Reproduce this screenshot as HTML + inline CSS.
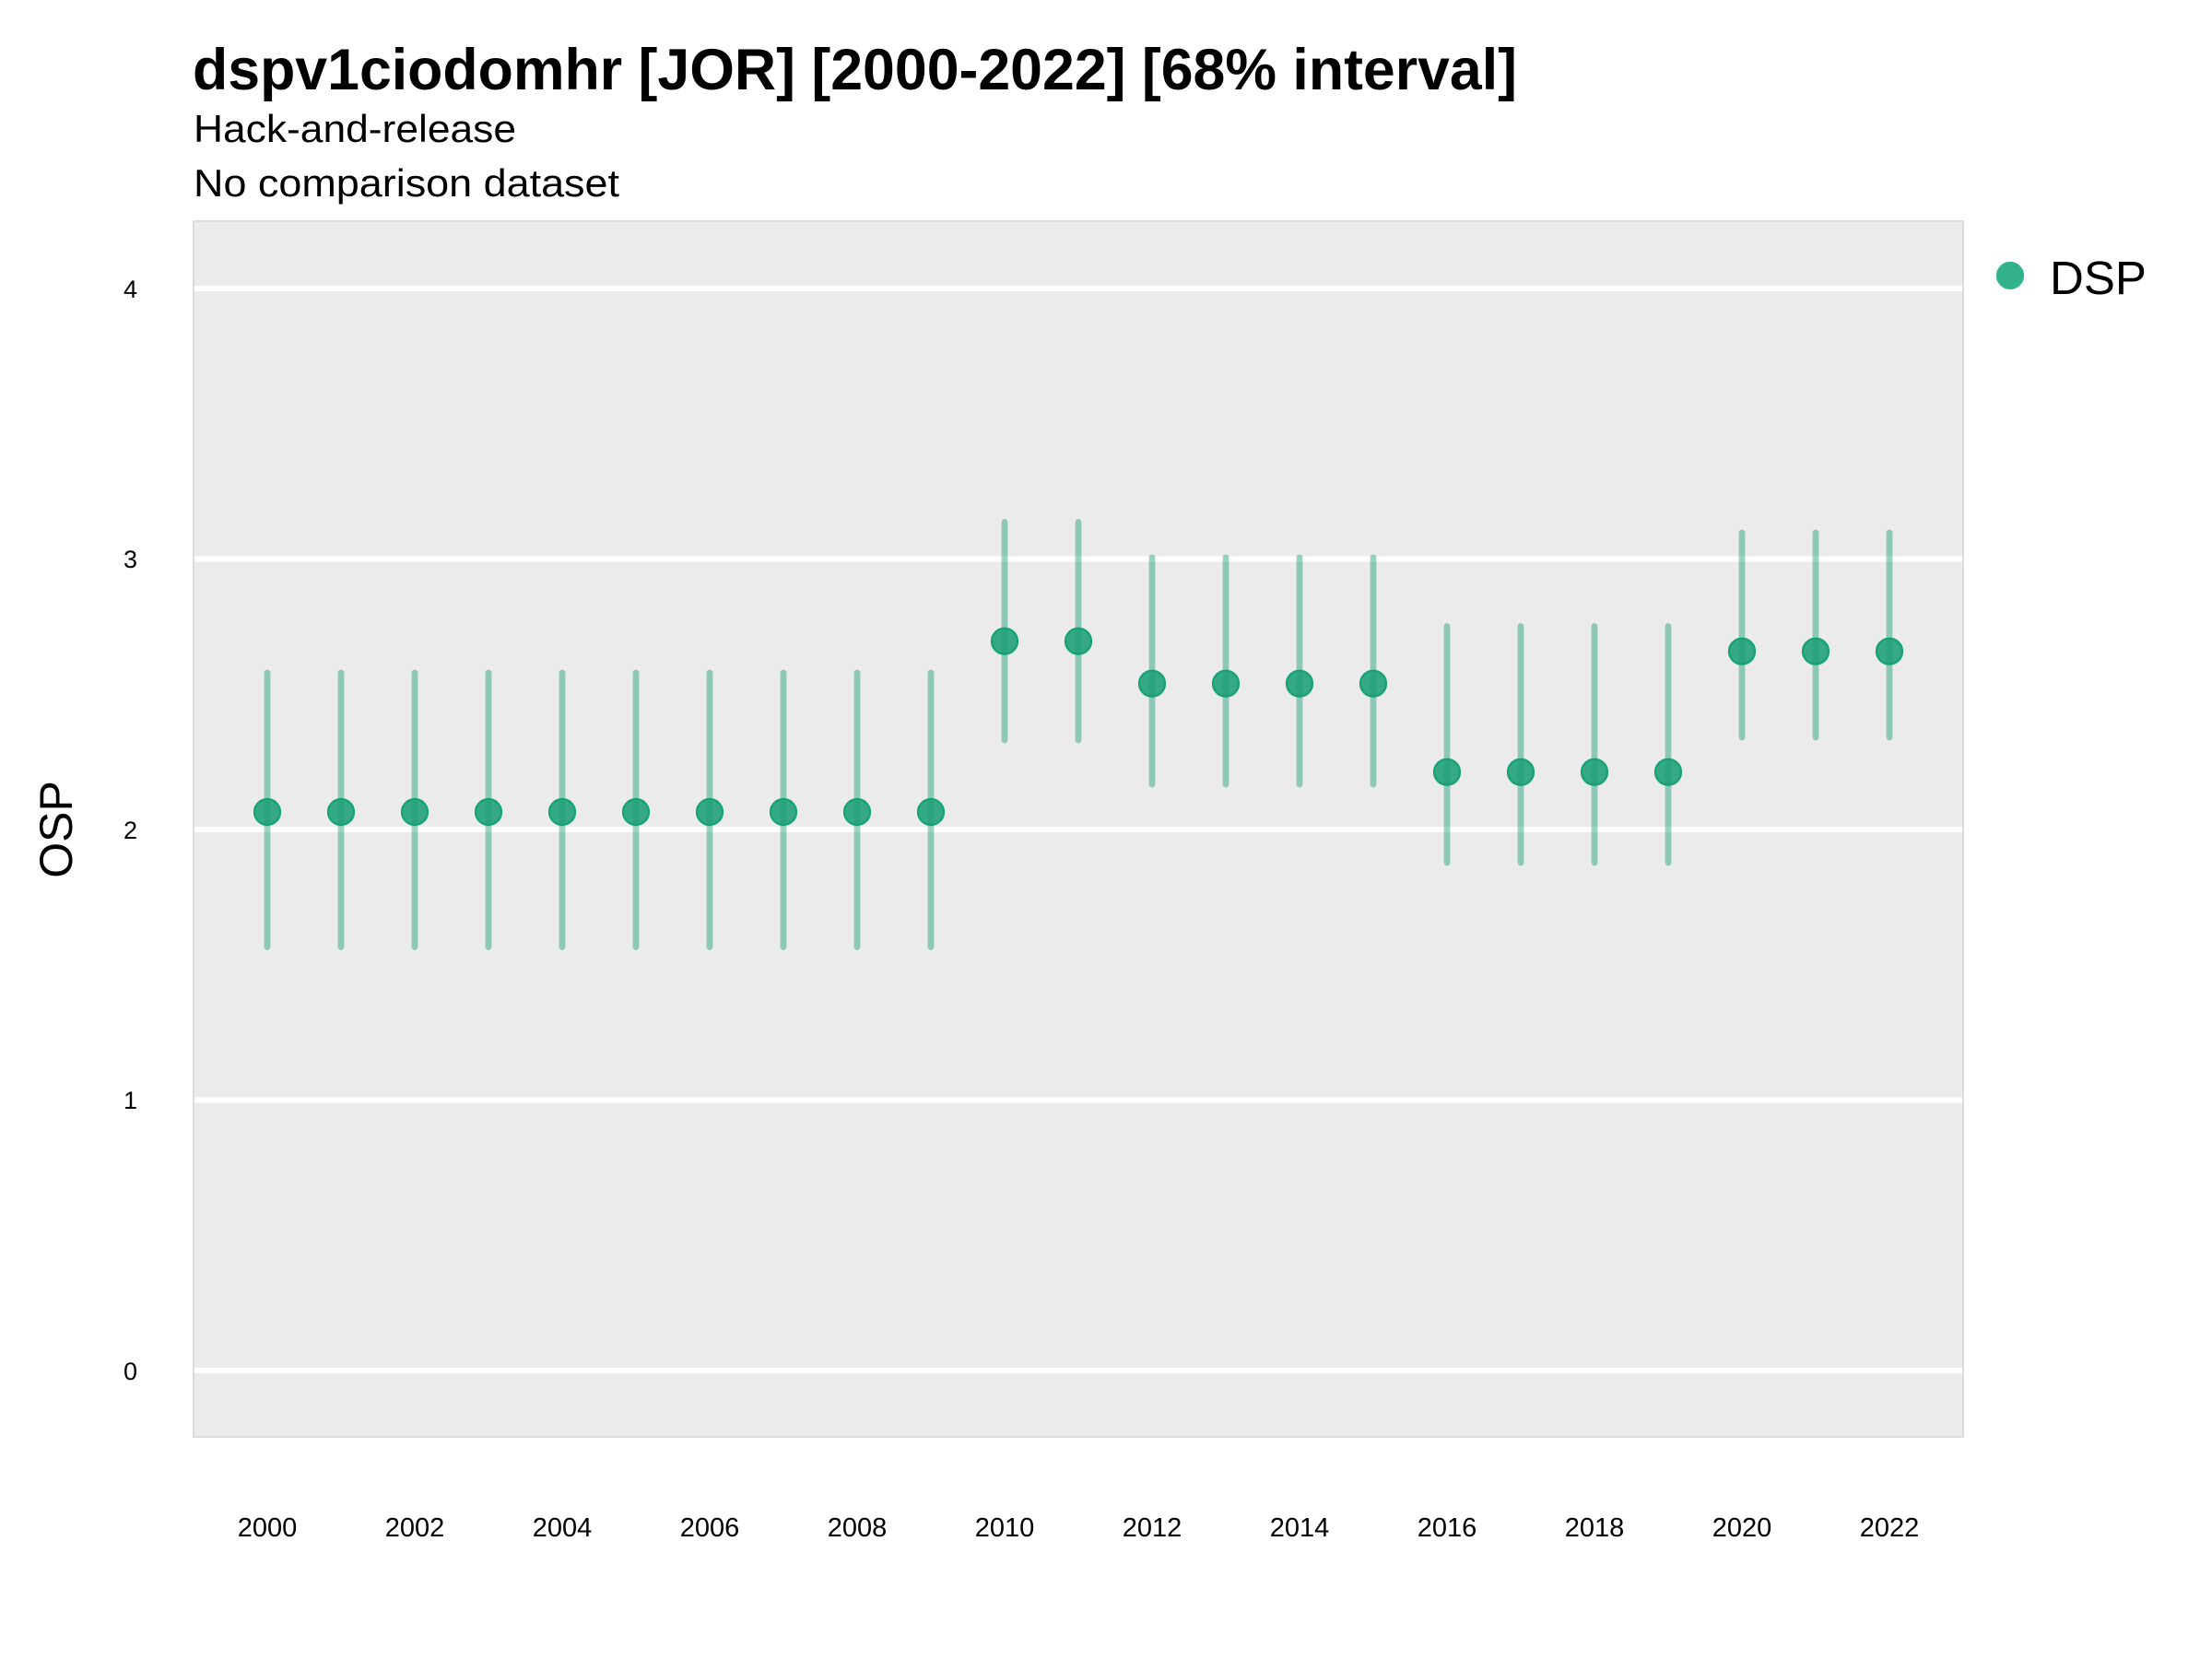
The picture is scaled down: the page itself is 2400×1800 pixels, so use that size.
<!DOCTYPE html>
<html>
<head>
<meta charset="utf-8">
<style>
  html, body { margin: 0; padding: 0; background: #ffffff; }
  svg { display: block; }
  text { font-family: "Liberation Sans", Arial, sans-serif; fill: #000; }
</style>
</head>
<body>
<svg width="2400" height="1800" viewBox="0 0 2400 1800" xmlns="http://www.w3.org/2000/svg">
  <rect x="0" y="0" width="2400" height="1800" fill="#ffffff"/>

  <!-- Titles -->
  <text x="209" y="97" font-size="63" font-weight="bold" textLength="1437" lengthAdjust="spacingAndGlyphs">dspv1ciodomhr [JOR] [2000-2022] [68% interval]</text>
  <text x="210" y="154" font-size="42" textLength="350" lengthAdjust="spacingAndGlyphs">Hack-and-release</text>
  <text x="210" y="213" font-size="42" textLength="462" lengthAdjust="spacingAndGlyphs">No comparison dataset</text>

  <!-- Panel -->
  <rect x="210" y="240" width="1920" height="1319" fill="#ebebeb" stroke="#dcdcdc" stroke-width="2"/>

  <!-- Gridlines -->
  <g stroke="#ffffff" stroke-width="6">
    <line x1="211" y1="313" x2="2129" y2="313"/>
    <line x1="211" y1="606.5" x2="2129" y2="606.5"/>
    <line x1="211" y1="900" x2="2129" y2="900"/>
    <line x1="211" y1="1193.5" x2="2129" y2="1193.5"/>
    <line x1="211" y1="1487" x2="2129" y2="1487"/>
  </g>

  <!-- Y tick labels -->
  <g font-size="27" text-anchor="end">
    <text x="149" y="323">4</text>
    <text x="149" y="616">3</text>
    <text x="149" y="910">2</text>
    <text x="149" y="1203">1</text>
    <text x="149" y="1497">0</text>
  </g>

  <!-- Y axis title -->
  <text x="0" y="0" font-size="50" text-anchor="middle" transform="translate(78,900) rotate(-90)">OSP</text>

  <!-- X tick labels -->
  <g font-size="29" text-anchor="middle">
    <text x="290" y="1667">2000</text>
    <text x="450" y="1667">2002</text>
    <text x="610" y="1667">2004</text>
    <text x="770" y="1667">2006</text>
    <text x="930" y="1667">2008</text>
    <text x="1090" y="1667">2010</text>
    <text x="1250" y="1667">2012</text>
    <text x="1410" y="1667">2014</text>
    <text x="1570" y="1667">2016</text>
    <text x="1730" y="1667">2018</text>
    <text x="1890" y="1667">2020</text>
    <text x="2050" y="1667">2022</text>
  </g>

  <!-- Error bars -->
  <g stroke="#1b9e77" stroke-opacity="0.45" stroke-width="6.7" stroke-linecap="round">
    <line x1="290" y1="730" x2="290" y2="1027.5"/>
    <line x1="370" y1="730" x2="370" y2="1027.5"/>
    <line x1="450" y1="730" x2="450" y2="1027.5"/>
    <line x1="530" y1="730" x2="530" y2="1027.5"/>
    <line x1="610" y1="730" x2="610" y2="1027.5"/>
    <line x1="690" y1="730" x2="690" y2="1027.5"/>
    <line x1="770" y1="730" x2="770" y2="1027.5"/>
    <line x1="850" y1="730" x2="850" y2="1027.5"/>
    <line x1="930" y1="730" x2="930" y2="1027.5"/>
    <line x1="1010" y1="730" x2="1010" y2="1027.5"/>

    <line x1="1090" y1="566.5" x2="1090" y2="803"/>
    <line x1="1170" y1="566.5" x2="1170" y2="803"/>

    <line x1="1250" y1="605" x2="1250" y2="851"/>
    <line x1="1330" y1="605" x2="1330" y2="851"/>
    <line x1="1410" y1="605" x2="1410" y2="851"/>
    <line x1="1490" y1="605" x2="1490" y2="851"/>

    <line x1="1570" y1="679.5" x2="1570" y2="936"/>
    <line x1="1650" y1="679.5" x2="1650" y2="936"/>
    <line x1="1730" y1="679.5" x2="1730" y2="936"/>
    <line x1="1810" y1="679.5" x2="1810" y2="936"/>

    <line x1="1890" y1="578" x2="1890" y2="800"/>
    <line x1="1970" y1="578" x2="1970" y2="800"/>
    <line x1="2050" y1="578" x2="2050" y2="800"/>
  </g>

  <!-- Points -->
  <g fill="#1b9e77" fill-opacity="0.88" stroke="#12a274" stroke-width="2.2">
    <circle cx="290" cy="881" r="14"/>
    <circle cx="370" cy="881" r="14"/>
    <circle cx="450" cy="881" r="14"/>
    <circle cx="530" cy="881" r="14"/>
    <circle cx="610" cy="881" r="14"/>
    <circle cx="690" cy="881" r="14"/>
    <circle cx="770" cy="881" r="14"/>
    <circle cx="850" cy="881" r="14"/>
    <circle cx="930" cy="881" r="14"/>
    <circle cx="1010" cy="881" r="14"/>

    <circle cx="1090" cy="695.7" r="14"/>
    <circle cx="1170" cy="695.7" r="14"/>

    <circle cx="1250" cy="741.7" r="14"/>
    <circle cx="1330" cy="741.7" r="14"/>
    <circle cx="1410" cy="741.7" r="14"/>
    <circle cx="1490" cy="741.7" r="14"/>

    <circle cx="1570" cy="837.7" r="14"/>
    <circle cx="1650" cy="837.7" r="14"/>
    <circle cx="1730" cy="837.7" r="14"/>
    <circle cx="1810" cy="837.7" r="14"/>

    <circle cx="1890" cy="706.7" r="14"/>
    <circle cx="1970" cy="706.7" r="14"/>
    <circle cx="2050" cy="706.7" r="14"/>
  </g>

  <!-- Legend -->
  <circle cx="2181" cy="299" r="14" fill="#33b08c" stroke="#2fb68c" stroke-width="2.2"/>
  <text x="2224" y="319" font-size="51">DSP</text>
</svg>
</body>
</html>
